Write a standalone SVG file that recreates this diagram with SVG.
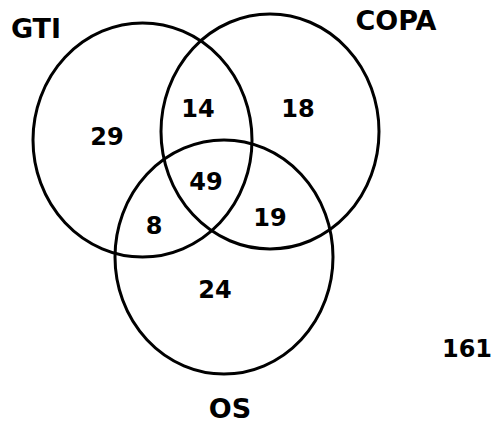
<svg xmlns="http://www.w3.org/2000/svg" width="493" height="423" viewBox="0 0 493 423">
<style>
.c{fill:none;stroke:#000;stroke-width:3}
.l{font-family:"DejaVu Sans",Verdana,sans-serif;font-weight:bold;font-size:27px;fill:#000;text-anchor:middle}
.n{font-family:"DejaVu Sans",Verdana,sans-serif;font-weight:bold;font-size:24px;fill:#000;text-anchor:middle}
</style>
<rect width="493" height="423" fill="#fff"/>
<g id="gti"><ellipse class="c" cx="142.5" cy="140" rx="109.5" ry="117"/><text class="l" x="36" y="38">GTI</text></g>
<g id="copa"><ellipse class="c" cx="270" cy="131.5" rx="109" ry="117.5"/><text class="l" x="396" y="30">COPA</text></g>
<g id="os"><ellipse class="c" cx="224" cy="257" rx="109" ry="117"/><text class="l" x="230" y="418">OS</text></g>
<g id="counts">
<text class="n" x="107" y="145">29</text>
<text class="n" x="198" y="117">14</text>
<text class="n" x="298" y="117">18</text>
<text class="n" x="206" y="190">49</text>
<text class="n" x="154" y="234">8</text>
<text class="n" x="270" y="226">19</text>
<text class="n" x="215" y="298">24</text>
<text class="n" x="467" y="357">161</text>
</g>
<g id="connectors"/>
</svg>
